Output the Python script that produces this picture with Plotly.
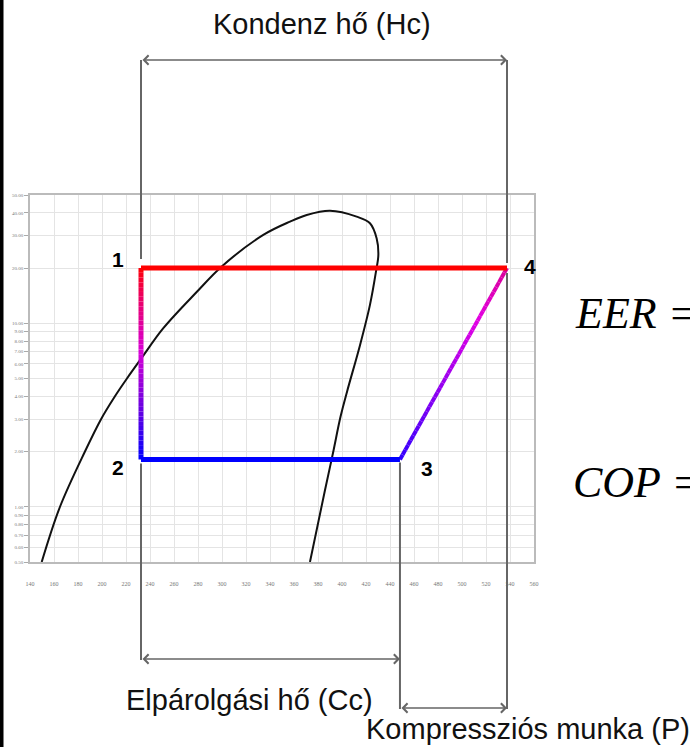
import colorsys
import numpy as np
import plotly.graph_objects as go

# ---------------- data ----------------
# saturation dome (enthalpy kJ/kg, pressure bar)
dome_h = [149.75, 165.0, 185.8, 199.2, 210.8, 220.8, 232.9, 251.1, 278.9, 299.8, 334.4,
          356.7, 370.6, 390.0, 412.2, 423.3, 428.9, 430.3, 428.3, 423.3, 415.0, 404.2,
          398.8, 392.4, 385.8, 373.3]
dome_p = [0.5, 1.0, 2.0, 3.0, 4.0, 5.0, 6.45, 9.4, 14.8, 20.4, 30.3,
          35.8, 38.9, 41.0, 38.1, 35.1, 29.0, 23.6, 19.1, 12.6, 7.6, 4.24,
          3.1, 1.95, 1.23, 0.5]

# refrigeration cycle points 1..4
cycle_labels = ["1", "2", "3", "4"]
cycle_h = [232.5, 232.5, 448.3, 537.5]
cycle_p = [20.0, 1.81, 1.81, 20.0]

# axis ticks
x_ticks = list(range(140, 561, 20))
y_ticks = [0.5, 0.6, 0.7, 0.8, 0.9, 1.0, 2.0, 3.0, 4.0, 5.0, 6.0, 7.0, 8.0, 9.0,
           10.0, 20.0, 30.0, 40.0, 50.0]
y_ticktext = ["%.2f" % v for v in y_ticks]

# texts
title_hc = "Kondenz hő (Hc)"
title_cc = "Elpárolgási hő (Cc)"
title_p = "Kompressziós munka (P)"
eq_eer = "EER ="
eq_cop = "COP ="

# ---------------- layout geometry ----------------
W, H = 690, 747
ML, MR, MT, MB = 30, 156, 195, 185
PW = W - ML - MR
PH = H - MT - MB
YMIN, YMAX = np.log10(0.5), np.log10(50)


def yp_of_p(p):
    return (np.log10(p) - YMIN) / (YMAX - YMIN)


def yp_of_px(ypx):
    return (H - MB - ypx) / PH


def xp_of_px(xpx):
    return (xpx - ML) / PW


fig = go.Figure()

# saturation dome
fig.add_trace(go.Scatter(x=dome_h, y=dome_p, mode="lines",
                         line=dict(color="#111111", width=2, shape="spline", smoothing=1.0),
                         hoverinfo="skip", showlegend=False))


def gradient(ia, ib, hue_a, hue_b, val_a, val_b, width, gamma=1.0, dip=0.0, n=40):
    ha, hb = cycle_h[ia], cycle_h[ib]
    la, lb = np.log10(cycle_p[ia]), np.log10(cycle_p[ib])
    for k in range(n):
        t0, t1 = k / n, (k + 1) / n
        tm = (t0 + t1) / 2
        te = tm ** gamma
        hue = (hue_a + (hue_b - hue_a) * te) % 360 / 360.0
        val = val_a + (val_b - val_a) * tm - dip * np.sin(np.pi * tm)
        r, g, b = colorsys.hsv_to_rgb(hue, 1.0, val)
        col = "rgb(%d,%d,%d)" % (r * 255, g * 255, b * 255)
        fig.add_trace(go.Scatter(
            x=[ha + (hb - ha) * t0, ha + (hb - ha) * t1],
            y=[10 ** (la + (lb - la) * t0), 10 ** (la + (lb - la) * t1)],
            mode="lines", line=dict(color=col, width=width),
            hoverinfo="skip", showlegend=False))


# 1 -> 2 gradient red to blue, 3 -> 4 blue-violet to magenta
gradient(0, 1, 360, 240, 1.0, 1.0, 5, gamma=0.85, dip=0.15)
gradient(2, 3, 252, 318, 1.0, 0.85, 4)

# 1 -> 4 red, 2 -> 3 blue
fig.add_trace(go.Scatter(x=[cycle_h[0], cycle_h[3]], y=[cycle_p[0], cycle_p[3]], mode="lines",
                         line=dict(color="#ff0000", width=5), hoverinfo="skip", showlegend=False))
fig.add_trace(go.Scatter(x=[cycle_h[1], cycle_h[2]], y=[cycle_p[1], cycle_p[2]], mode="lines",
                         line=dict(color="#0000ff", width=5), hoverinfo="skip", showlegend=False))

# ---------------- dimension lines ----------------
GRAY = "#666666"
shapes = []
y_top_arrow = yp_of_px(60)
y_cc_arrow = yp_of_px(659)
y_p_arrow = yp_of_px(708)
px = 1.0 / PH


def vline(h, y0, y1):
    shapes.append(dict(type="line", xref="x", yref="paper", x0=h, x1=h, y0=y0, y1=y1,
                       line=dict(color=GRAY, width=2), layer="above"))


yp_hi = yp_of_p(cycle_p[0])
yp_lo = yp_of_p(cycle_p[1])
vline(cycle_h[0], y_top_arrow, yp_hi + 9 * px)
vline(cycle_h[3], y_top_arrow, yp_hi + 5 * px)
vline(cycle_h[1], yp_lo - 4 * px, y_cc_arrow - 1 * px)
vline(cycle_h[2], yp_lo - 3 * px, y_p_arrow - 1 * px)
vline(cycle_h[3], yp_hi - 5 * px, y_p_arrow - 1 * px)

# black strip at the left edge
shapes.append(dict(type="rect", xref="paper", yref="paper",
                   x0=xp_of_px(0), x1=xp_of_px(3.5), y0=yp_of_px(H), y1=yp_of_px(0),
                   line=dict(width=0), fillcolor="#000000", layer="above"))

annotations = []


def dim_arrow(h_a, h_b, y):
    annotations.append(dict(x=h_b, y=y, xref="x", yref="paper", ax=h_a, ay=0,
                            axref="x", ayref="pixel", text="", showarrow=True,
                            arrowhead=4, startarrowhead=4, arrowside="end+start",
                            arrowsize=1.2, startarrowsize=1.2, arrowwidth=1.5,
                            arrowcolor=GRAY, standoff=0, startstandoff=0))


dim_arrow(cycle_h[0], cycle_h[3], y_top_arrow)
dim_arrow(cycle_h[1], cycle_h[2], y_cc_arrow)
dim_arrow(cycle_h[2], cycle_h[3], y_p_arrow)

SANS = "Liberation Sans, Arial, sans-serif"
annotations.append(dict(x=xp_of_px(322), y=yp_of_px(24), xref="paper", yref="paper",
                        text=title_hc, showarrow=False, xanchor="center", yanchor="middle",
                        font=dict(family=SANS, size=29, color="#111111")))
annotations.append(dict(x=xp_of_px(249), y=yp_of_px(700), xref="paper", yref="paper",
                        text=title_cc, showarrow=False, xanchor="center", yanchor="middle",
                        font=dict(family=SANS, size=29, color="#111111")))
annotations.append(dict(x=xp_of_px(364), y=yp_of_px(729), xref="paper", yref="paper",
                        text=title_p, showarrow=False, xanchor="left", yanchor="middle",
                        font=dict(family=SANS, size=29, color="#111111")))

# point labels
label_shift = [(-23, 9), (-23, -8), (27, -9), (23, 2)]
for lab, h, p, (dx, dy) in zip(cycle_labels, cycle_h, cycle_p, label_shift):
    annotations.append(dict(x=h, y=np.log10(p), xref="x", yref="y", text="<b>%s</b>" % lab,
                            showarrow=False, xshift=dx, yshift=dy,
                            font=dict(family=SANS, size=21, color="#000000")))

SERIF = "Liberation Serif, Times New Roman, serif"
annotations.append(dict(x=xp_of_px(573), y=yp_of_px(313), xref="paper", yref="paper",
                        text="<i>%s</i>" % eq_eer, showarrow=False, xanchor="left",
                        yanchor="middle", font=dict(family=SERIF, size=44, color="#000000")))
annotations.append(dict(x=xp_of_px(571), y=yp_of_px(482), xref="paper", yref="paper",
                        text="<i>%s</i>" % eq_cop, showarrow=False, xanchor="left",
                        yanchor="middle", font=dict(family=SERIF, size=44, color="#000000")))

fig.update_layout(
    width=W, height=H, autosize=False,
    margin=dict(l=ML, r=MR, t=MT, b=MB, pad=0),
    paper_bgcolor="#ffffff", plot_bgcolor="#ffffff",
    showlegend=False,
    shapes=shapes, annotations=annotations,
    font=dict(family=SANS),
)
fig.update_xaxes(range=[140, 560], tickvals=x_ticks, ticktext=[str(v) for v in x_ticks],
                 showgrid=True, gridcolor="#e4e4e4", gridwidth=1, zeroline=False,
                 ticks="", ticklabelstandoff=15,
                 tickfont=dict(size=6, color="#777777", family="Liberation Serif"),
                 showline=True, linecolor="#bbbbbb", linewidth=1.5, mirror=True)
fig.update_yaxes(type="log", range=[YMIN, YMAX], tickvals=y_ticks, ticktext=y_ticktext,
                 showgrid=True, gridcolor="#e4e4e4", gridwidth=1, zeroline=False,
                 ticks="outside", ticklen=4, tickcolor="#aaaaaa", tickwidth=1,
                 tickfont=dict(size=5, color="#777777", family="Liberation Serif"),
                 showline=True, linecolor="#bbbbbb", linewidth=1.5, mirror=True)

fig.write_html("out.html", config={"displayModeBar": False},
               post_script="document.body.style.margin='0';document.body.style.padding='0';")
